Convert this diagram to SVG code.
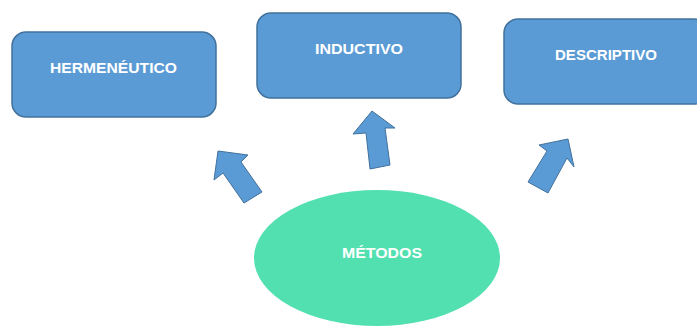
<svg xmlns="http://www.w3.org/2000/svg" width="697" height="327" viewBox="0 0 697 327">
<style>
.box{fill:#5B9BD5;stroke:#41719C;stroke-width:1.5}
.arrow{fill:#5B9BD5;stroke:#41719C;stroke-width:1;stroke-linejoin:miter}
.oval{fill:#52E0B0}
.lbl{font-family:"Liberation Sans",Arial,sans-serif;font-weight:bold;font-size:15px;fill:#FFFFFF;text-anchor:middle}
</style>
<rect width="697" height="327" fill="#FFFFFF"/>
<g id="hermeneutico">
<rect class="box" x="12" y="32" width="204" height="85" rx="14"/>
<text class="lbl" x="113.5" y="73" textLength="127" lengthAdjust="spacingAndGlyphs">HERMENÉUTICO</text>
</g>
<g id="inductivo">
<rect class="box" x="257" y="13" width="204" height="85" rx="14"/>
<text class="lbl" x="359" y="54" textLength="88" lengthAdjust="spacingAndGlyphs">INDUCTIVO</text>
</g>
<g id="descriptivo">
<rect class="box" x="504" y="19" width="204" height="85" rx="14"/>
<text class="lbl" x="606" y="60" textLength="102" lengthAdjust="spacingAndGlyphs">DESCRIPTIVO</text>
</g>
<g id="metodos">
<ellipse class="oval" cx="377" cy="258" rx="123" ry="68"/>
<text class="lbl" x="382" y="258" textLength="80" lengthAdjust="spacingAndGlyphs">MÉTODOS</text>
</g>
<g id="connectors">
<polygon class="arrow" points="218,151 248,155 241,162 262,192 244,203 223,173 214,180"/>
<polygon class="arrow" points="372,111 395,128 385,128 390,165 370,169 366,133 353,134"/>
<polygon class="arrow" points="568,139 574,167 567,158 548,193 528,182 547,151 539,145"/>
</g>
</svg>
